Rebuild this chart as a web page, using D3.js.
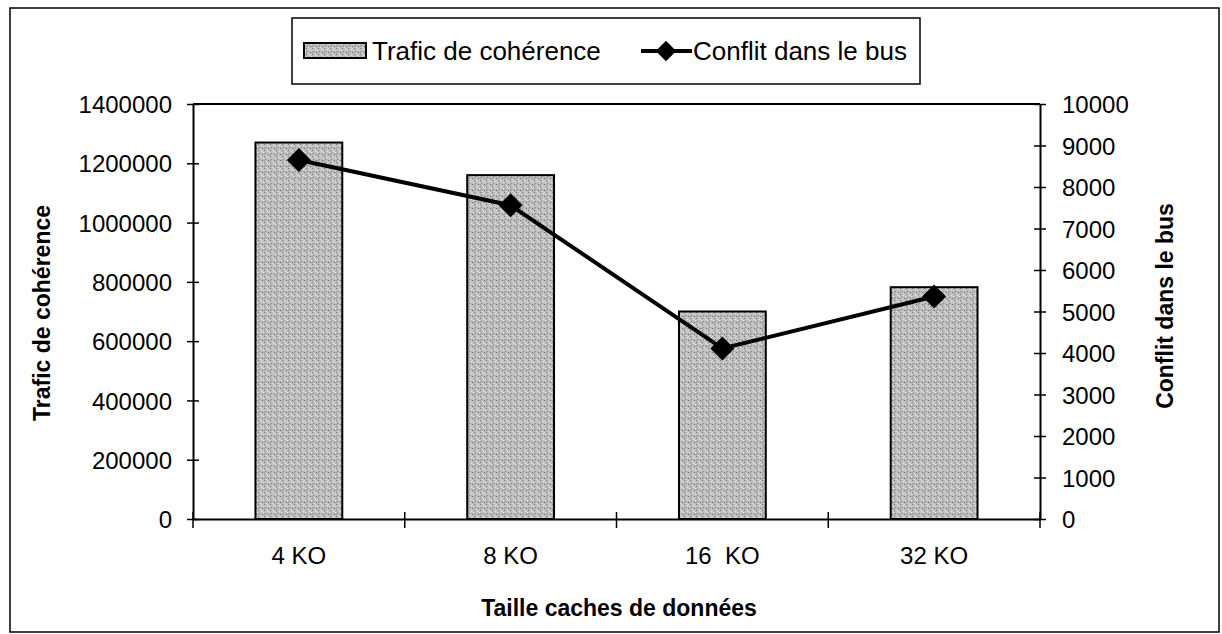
<!DOCTYPE html>
<html lang="fr">
<head>
<meta charset="utf-8">
<title>Trafic de cohérence</title>
<script src="https://cdnjs.cloudflare.com/ajax/libs/d3/7.8.5/d3.min.js"></script>
<style>
  body { margin: 0; background: #fff; }
  text { font-family: "Liberation Sans", Arial, sans-serif; fill: #000; }
  .tick text { font-size: 24px; }
  .title { font-size: 23px; font-weight: bold; }
  .leg { font-size: 26px; }
</style>
</head>
<body>
<div id="chart"></div>
<script>
// data
var categories = ["4 KO", "8 KO", "16  KO", "32 KO"];
var trafic = [1270000, 1160000, 700000, 782000];
var conflit = [8650, 7560, 4110, 5360];
var leftTicks = [0, 200000, 400000, 600000, 800000, 1000000, 1200000, 1400000];
var rightTicks = [0, 1000, 2000, 3000, 4000, 5000, 6000, 7000, 8000, 9000, 10000];

var width = 1222, height = 634;
var plot = {left: 193, right: 1040, top: 104, bottom: 519};

var svg = d3.select("#chart").append("svg")
    .attr("width", width)
    .attr("height", height);

// stippled grey fill for the bars
var pat = svg.append("defs").append("pattern")
    .attr("id", "stipple")
    .attr("patternUnits", "userSpaceOnUse")
    .attr("width", 6).attr("height", 6);
pat.append("rect").attr("width", 6).attr("height", 6).attr("fill", "#bcbcbc");
[[0,0,"#777"],[3,1,"#f0f0f0"],[1,3,"#888"],[4,4,"#6c6c6c"],[5,2,"#e6e6e6"],[2,5,"#e0e0e0"],[0,4,"#999"],[4,0,"#ddd"]]
  .forEach(function(p){
    pat.append("rect").attr("x", p[0]).attr("y", p[1]).attr("width", 1).attr("height", 1).attr("fill", p[2]);
  });

// outer frame
svg.append("rect")
    .attr("x", 10).attr("y", 8)
    .attr("width", 1209).attr("height", 624)
    .attr("fill", "none").attr("stroke", "#000").attr("stroke-width", 1.5);

var x = d3.scaleBand()
    .domain(categories)
    .range([plot.left, plot.right])
    .paddingInner(0.59)
    .paddingOuter(0.295);

var yLeft = d3.scaleLinear().domain([0, 1400000]).range([plot.bottom, plot.top]);
var yRight = d3.scaleLinear().domain([0, 10000]).range([plot.bottom, plot.top]);

// top border of plot area
svg.append("line")
    .attr("x1", plot.left).attr("x2", plot.right)
    .attr("y1", plot.top).attr("y2", plot.top)
    .attr("stroke", "#000").attr("stroke-width", 2);

// bars
svg.selectAll("rect.bar")
    .data(trafic)
    .enter().append("rect")
    .attr("class", "bar")
    .attr("x", function(d, i){ return x(categories[i]); })
    .attr("y", function(d){ return yLeft(d); })
    .attr("width", x.bandwidth())
    .attr("height", function(d){ return yLeft(0) - yLeft(d); })
    .attr("fill", "url(#stipple)")
    .attr("stroke", "#000")
    .attr("stroke-width", 2);

// axes
function styleAxis(g) {
  g.select(".domain").attr("stroke", "#000").attr("stroke-width", 2);
  g.selectAll(".tick line").attr("stroke", "#000").attr("stroke-width", 1.5);
}

var axLeft = svg.append("g")
    .attr("transform", "translate(" + plot.left + ",0)")
    .call(d3.axisLeft(yLeft).tickValues(leftTicks).tickFormat(d3.format("d")).tickSize(6).tickSizeOuter(0).tickPadding(15));
styleAxis(axLeft);
axLeft.selectAll(".tick line").attr("x2", -6).attr("x1", 6);
axLeft.selectAll(".tick text").attr("dy", "0.36em");

var axRight = svg.append("g")
    .attr("transform", "translate(" + plot.right + ",0)")
    .call(d3.axisRight(yRight).tickValues(rightTicks).tickFormat(d3.format("d")).tickSize(6).tickSizeOuter(0).tickPadding(16));
styleAxis(axRight);
axRight.selectAll(".tick line").attr("x1", -6).attr("x2", 6);
axRight.selectAll(".tick text").attr("dy", "0.36em");

// x axis: ticks at category boundaries
var axBottom = svg.append("g")
    .attr("transform", "translate(0," + plot.bottom + ")")
    .call(d3.axisBottom(x).tickSize(0).tickSizeOuter(0).tickPadding(28));
styleAxis(axBottom);
axBottom.selectAll(".tick text").style("white-space", "pre").attr("xml:space", "preserve");

var bounds = categories.map(function(c){ return x(c) - x.step() * x.paddingOuter(); });
bounds.push(plot.right);
svg.selectAll("line.xtick")
    .data(bounds)
    .enter().append("line")
    .attr("class", "xtick")
    .attr("x1", function(d){ return d; }).attr("x2", function(d){ return d; })
    .attr("y1", plot.bottom - 7).attr("y2", plot.bottom + 9)
    .attr("stroke", "#000").attr("stroke-width", 1.5);

// line series
var cx = function(i){ return x(categories[i]) + x.bandwidth() / 2; };
var line = d3.line()
    .x(function(d, i){ return cx(i); })
    .y(function(d){ return yRight(d); });

svg.append("path")
    .datum(conflit)
    .attr("d", line)
    .attr("fill", "none")
    .attr("stroke", "#000")
    .attr("stroke-width", 4);

var diamond = "M0,-12L12,0L0,12L-12,0Z";
svg.selectAll("path.marker")
    .data(conflit)
    .enter().append("path")
    .attr("class", "marker")
    .attr("d", diamond)
    .attr("transform", function(d, i){ return "translate(" + cx(i) + "," + yRight(d) + ")"; })
    .attr("fill", "#000");

// axis titles
svg.append("text")
    .attr("class", "title")
    .attr("text-anchor", "middle")
    .attr("transform", "translate(50,313) rotate(-90)")
    .text("Trafic de cohérence");

svg.append("text")
    .attr("class", "title")
    .attr("text-anchor", "middle")
    .attr("transform", "translate(1173,306) rotate(-90)")
    .text("Conflit dans le bus");

svg.append("text")
    .attr("class", "title")
    .attr("text-anchor", "middle")
    .attr("x", 619).attr("y", 616)
    .text("Taille caches de données");

// legend
var legend = svg.append("g");
legend.append("rect")
    .attr("x", 292).attr("y", 18)
    .attr("width", 628).attr("height", 66)
    .attr("fill", "#fff").attr("stroke", "#000").attr("stroke-width", 1.5);
legend.append("rect")
    .attr("x", 304).attr("y", 43)
    .attr("width", 62).attr("height", 15)
    .attr("fill", "url(#stipple)").attr("stroke", "#000").attr("stroke-width", 2);
legend.append("text")
    .attr("class", "leg")
    .attr("x", 372).attr("y", 60)
    .text("Trafic de cohérence");
legend.append("line")
    .attr("x1", 641).attr("x2", 692)
    .attr("y1", 51).attr("y2", 51)
    .attr("stroke", "#000").attr("stroke-width", 4);
legend.append("path")
    .attr("d", diamond)
    .attr("transform", "translate(666,51) scale(0.85)")
    .attr("fill", "#000");
legend.append("text")
    .attr("class", "leg")
    .attr("x", 693).attr("y", 60)
    .text("Conflit dans le bus");
</script>
</body>
</html>
